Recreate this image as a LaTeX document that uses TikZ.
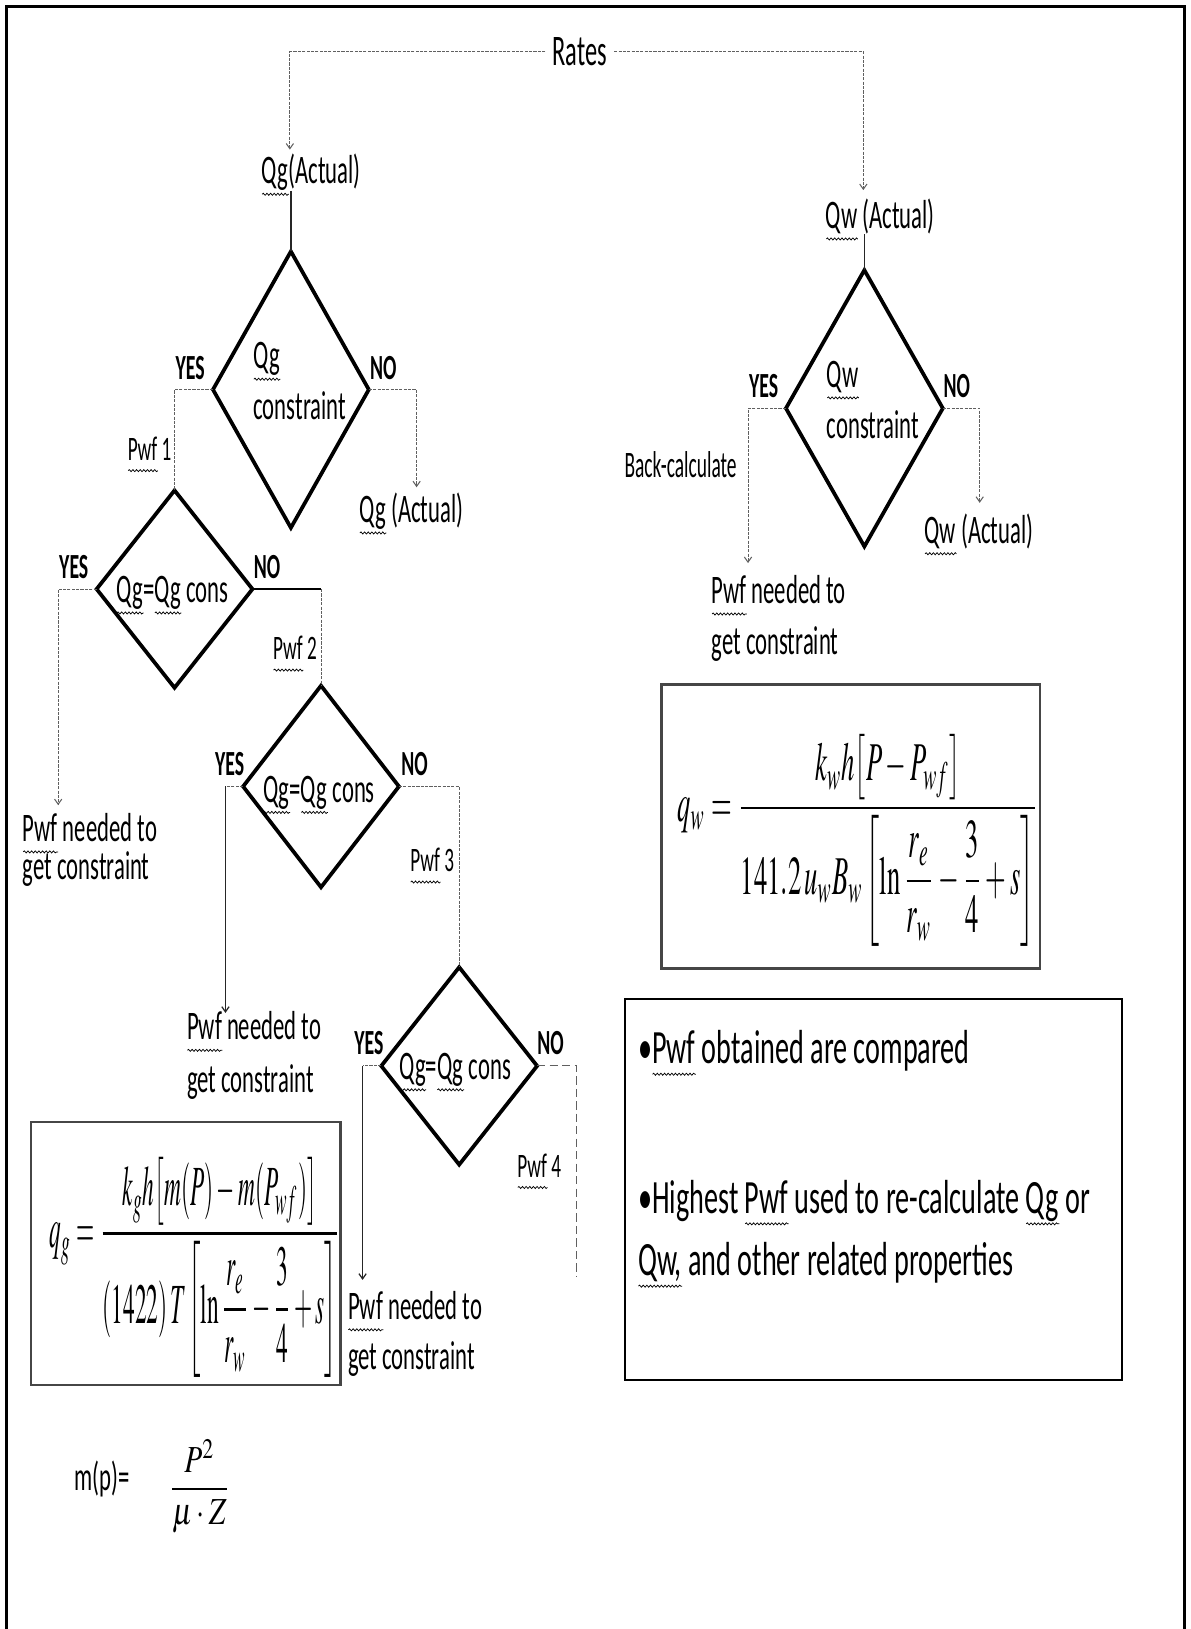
\documentclass[tikz,border=0pt]{standalone}
\usepackage{mathptmx}
\usepackage{amsmath}
\usepackage{graphicx}
\usepackage{fontspec}
\usetikzlibrary{shapes.geometric,arrows.meta,decorations.pathmorphing}
\newfontfamily\cond{Carlito}[FakeStretch=0.56]
\newfontfamily\condn{Carlito}[FakeStretch=0.52]
\newfontfamily\condm{Carlito}[FakeStretch=0.59]
\newdimen\wvw
\newcommand\wv[1]{\setbox0\hbox{#1}\wvw=\wd0\rlap{\smash{\tikz[x=1pt,y=1pt,baseline=0pt]{\draw[line width=0.7pt, decorate, decoration={snake, amplitude=1pt, segment length=3.5pt}] (0,-10) -- (\wvw,-10);}}}\box0\relax}
\tikzset{
 lbl/.style={font=\cond\fontsize{39}{44}\selectfont, inner sep=0pt, outer sep=0pt},
 sml/.style={font=\cond\fontsize{33}{38}\selectfont, inner sep=0pt, outer sep=0pt},
 yn/.style={font=\cond\bfseries\fontsize{34}{38}\selectfont, inner sep=0pt, outer sep=0pt, anchor=base},
 dec/.style={shape=diamond, draw, line width=3.6pt, inner sep=0pt, outer sep=0pt},
 conn/.style={draw=gray!75!black, line width=1pt, dash pattern=on 3pt off 1.2pt},
 solidc/.style={draw=black!85, line width=1.2pt},
 tip/.style={-{Straight Barb[length=5pt,width=7pt]}},
 fbox/.style={draw=gray!55!black, line width=2.5pt, inner sep=0pt},
 txt/.style={font=\condm\fontsize{46}{52}\selectfont, inner sep=0pt, anchor=base west},
}
\begin{document}
\begin{tikzpicture}[x=1pt,y=-1pt]
\useasboundingbox (0,0) rectangle (1146,1568);
\draw[line width=3pt] (6.5,1568) -- (6.5,6.5) -- (1140,6.5) -- (1140,1568);

% top
\node[lbl, font=\cond\fontsize{42}{46}\selectfont, anchor=base, inner xsep=7pt] (rates) at (558,63) {Rates};
\node[lbl, anchor=base west] (qga) at (252,177) {\wv{Qg}(Actual)};
\node[lbl, anchor=base west] (qwa) at (795,220) {\wv{Qw} (Actual)};

% diamonds
\node[dec, minimum width=150pt, minimum height=266pt] (d1) at (280,375) {};
\node[dec, minimum width=151pt, minimum height=266pt] (dw) at (832,393) {};
\node[dec, minimum width=150pt, minimum height=190pt] (d2) at (168,567) {};
\node[dec, minimum width=150pt, minimum height=194pt] (d3) at (309,757) {};
\node[dec, minimum width=150pt, minimum height=190pt] (d4) at (442,1026) {};

% diamond texts
\node[lbl, anchor=base west] (d1a) at (244,355) {\wv{Qg}};
\node[lbl, anchor=base west] (d1b) at (244,404) {constraint};
\node[lbl, anchor=base west] (dwa) at (796,373) {\wv{Qw}};
\node[lbl, anchor=base west] (dwb) at (796,422) {constraint};
\node[lbl, anchor=base] (d2t) at (166,580) {\wv{Qg}=\wv{Qg} cons};
\node[lbl, anchor=base] (d3t) at (307,772) {\wv{Qg}=\wv{Qg} cons};
\node[lbl, anchor=base] (d4t) at (438,1039) {\wv{Qg}=\wv{Qg} cons};

% YES / NO
\node[yn] (y1) at (183,365) {YES};
\node[yn] (n1) at (369,365) {NO};
\node[yn] (y2) at (71,557) {YES};
\node[yn] (n2) at (257,557) {NO};
\node[yn] (y3) at (221,746) {YES};
\node[yn] (n3) at (399,746) {NO};
\node[yn] (y4) at (355,1015) {YES};
\node[yn] (n4) at (530,1015) {NO};
\node[yn] (yw) at (735,383) {YES};
\node[yn] (nw) at (921,383) {NO};

% branch labels
\node[sml, anchor=base east] (p1) at (165,443) {\wv{Pwf} 1};
\node[sml, anchor=base east] (p2) at (305,635) {\wv{Pwf} 2};
\node[sml, anchor=base east] (p3) at (437,839) {\wv{Pwf} 3};
\node[sml, anchor=base east] (p4) at (540,1133) {\wv{Pwf} 4};
\node[font=\condn\fontsize{36}{40}\selectfont, inner sep=0pt, anchor=base west] (bc) at (601,460) {Back-calculate};

% outcomes
\node[lbl, anchor=base west] (qgb) at (346,503) {\wv{Qg} (Actual)};
\node[lbl, anchor=base west] (qwb) at (890,523) {\wv{Qw} (Actual)};
\node[lbl, anchor=base west] (pn1) at (22,810) {\wv{Pwf} needed to};
\node[lbl, anchor=base west] (pn1b) at (22,847) {get constraint};
\node[lbl, anchor=base west] (pn2) at (180,1001) {\wv{Pwf} needed to};
\node[lbl, anchor=base west] (pn2b) at (180,1052) {get constraint};
\node[lbl, anchor=base west] (pn3) at (335,1270) {\wv{Pwf} needed to};
\node[lbl, anchor=base west] (pn3b) at (335,1318) {get constraint};
\node[lbl, anchor=base west] (pnw) at (685,581) {\wv{Pwf} needed to};
\node[lbl, anchor=base west] (pnwb) at (685,630) {get constraint};

% arrow ends
\coordinate (ka) at ([xshift=27pt,yshift=33pt]qga.base west);
\coordinate (kb) at ([xshift=36pt,yshift=37pt]qwa.base west);
\coordinate (k1) at ([xshift=55pt,yshift=34pt]qgb.base west);
\coordinate (k2) at ([xshift=34pt,yshift=35pt]pn1.base west);
\coordinate (k3) at ([xshift=37pt,yshift=26pt]pn2.base west);
\coordinate (k4) at ([xshift=14pt,yshift=38pt]pn3.base west);
\coordinate (e4) at (555,1229);
\coordinate (kw) at ([xshift=35pt,yshift=39pt]pnw.base west);
\coordinate (kw2) at ([xshift=53pt,yshift=39pt]qwb.base west);

% connectors
\draw[conn,tip] (rates.west) -| (ka);
\draw[conn,tip] (rates.east) -| (kb);
\draw[solidc] (d1.north |- qga.south) -- (d1.north);
\draw[solidc] (dw.north |- qwa.south) -- (dw.north);
\draw[conn] (d1.west) -| (d2.north);
\draw[conn,tip] (d1.east) -| (k1);
\draw[conn,tip] (d2.west) -| (k2);
\draw[line width=2.5pt] (d2.east) -- (d2.east -| d3.north);
\draw[conn] (d2.east -| d3.north) -- (d3.north);
\draw[conn] (d3.west) -- (d3.west -| k3);
\draw[solidc,tip] (d3.west -| k3) -- (k3);
\draw[conn] (d3.east) -| (d4.north);
\draw[conn] (d4.west) -- (d4.west -| k4);
\draw[solidc,tip] (d4.west -| k4) -- (k4);
\draw[conn, dash pattern=on 8pt off 4pt] (d4.east) -| (e4);
\draw[conn,tip] (dw.west) -| (kw);
\draw[conn,tip] (dw.east) -| (kw2);

% formula boxes
\node[fbox, minimum width=364pt, minimum height=273pt] (fwbox) at (819,795.5) {};
\node[inner sep=0pt] (fw) at (825.5,809) {\resizebox*{347pt}{204pt}{$q_w=\dfrac{k_w h\bigl[P-P_{wf}\bigr]}{141.2\,u_w B_w\left[\ln\dfrac{r_e}{r_w}-\dfrac{3}{4}+s\right]}$}};
\node[fbox, minimum width=298pt, minimum height=253pt] (fgbox) at (179,1206.5) {};
\node[inner sep=0pt] (fg) at (187.5,1220) {\resizebox*{279pt}{212pt}{$q_g=\dfrac{k_g h\bigl[m(P)-m(P_{wf})\bigr]}{(1422)\,T\left[\ln\dfrac{r_e}{r_w}-\dfrac{3}{4}+s\right]}$}};

% m(p)
\node[lbl, anchor=base west] (mp) at (72,1435) {m(p)=};
\node[inner sep=0pt] (mpf) at (192,1431) {\resizebox*{59pt}{90pt}{$\dfrac{P^2}{\mu\cdot Z}$}};

% text box
\node[draw, line width=2pt, minimum width=478pt, minimum height=366pt, inner sep=0pt] (tb) at (841,1145) {};
\node[txt] (t1) at (614,1024) {•\wv{Pwf} obtained are compared};
\node[txt] (t2) at (614,1168) {•Highest \wv{Pwf} used to re-calculate \wv{Qg} or};
\node[txt] (t3) at (614,1228) {\wv{Qw,} and other related properties};
\end{tikzpicture}
\end{document}
